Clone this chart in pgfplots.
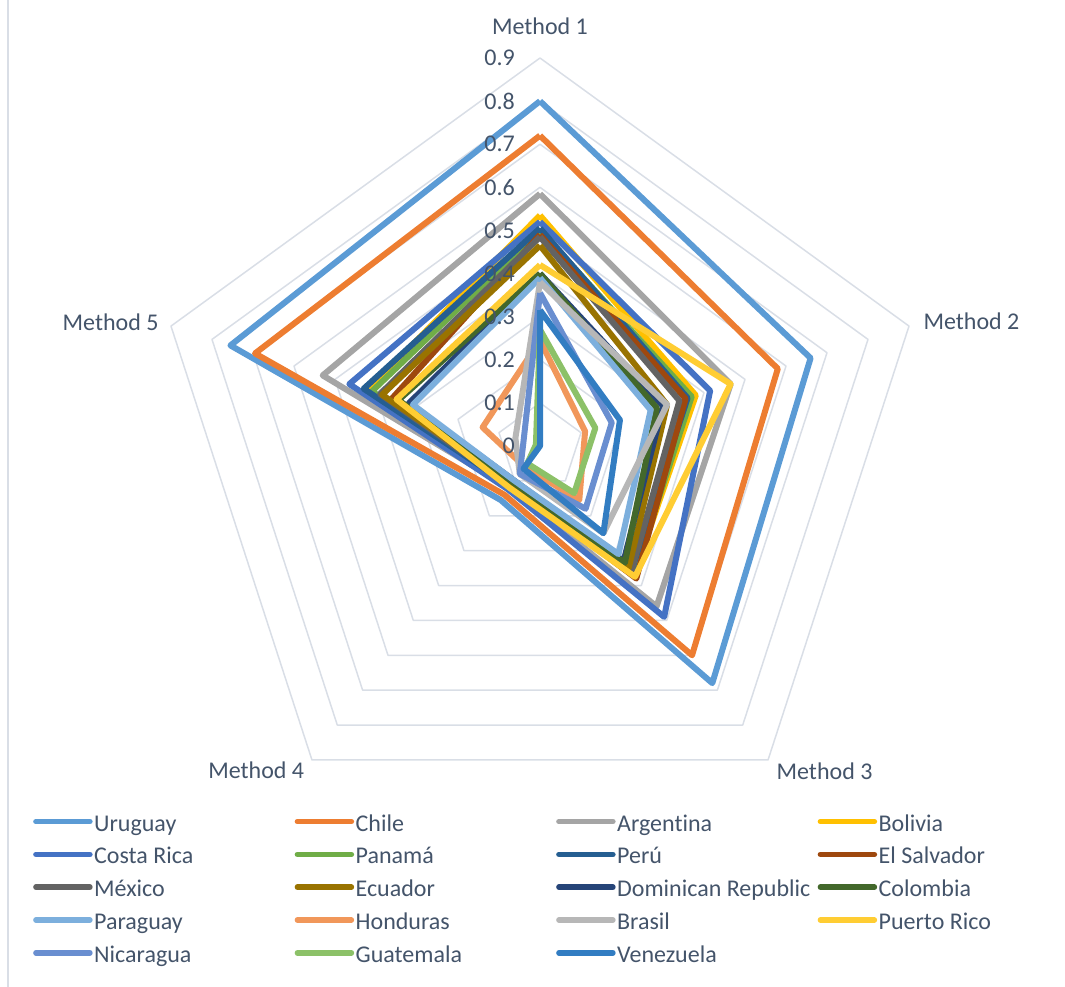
\documentclass[border=0pt]{standalone}
\usepackage{pgfplots}
\pgfplotsset{compat=1.18}
\usepackage{pgfplotstable}
\usepgfplotslibrary{polar}
\usepackage{fontspec}
\setmainfont{Carlito}[Ligatures=NoCommon]

\definecolor{textc}{HTML}{44546A}
\definecolor{gridc}{HTML}{D9DEE6}
\definecolor{cUruguay}{HTML}{5B9BD5}
\definecolor{cChile}{HTML}{ED7D31}
\definecolor{cArgentina}{HTML}{A5A5A5}
\definecolor{cBolivia}{HTML}{FFC000}
\definecolor{cCostaRica}{HTML}{4472C4}
\definecolor{cPanama}{HTML}{70AD47}
\definecolor{cPeru}{HTML}{255E91}
\definecolor{cElSalvador}{HTML}{9E480E}
\definecolor{cMexico}{HTML}{636363}
\definecolor{cEcuador}{HTML}{997300}
\definecolor{cDomRep}{HTML}{264478}
\definecolor{cColombia}{HTML}{43682B}
\definecolor{cParaguay}{HTML}{7CAFDD}
\definecolor{cHonduras}{HTML}{F1975A}
\definecolor{cBrasil}{HTML}{B7B7B7}
\definecolor{cPuertoRico}{HTML}{FFCD33}
\definecolor{cNicaragua}{HTML}{698ED0}
\definecolor{cGuatemala}{HTML}{8CC168}
\definecolor{cVenezuela}{HTML}{327DC2}

% One row per method (angle of its spoke), first row repeated to close each polygon
\pgfplotstableread{
angle Uruguay Chile Argentina Bolivia CostaRica Panama Peru ElSalvador Mexico Ecuador DomRep Colombia Paraguay Honduras Brasil PuertoRico Nicaragua Guatemala Venezuela
90    0.80  0.72  0.585 0.535 0.52  0.50  0.505 0.49  0.485 0.465 0.40  0.40  0.39  0.245 0.38  0.42  0.355 0.27  0.315
18    0.66  0.58  0.465 0.38  0.415 0.37  0.36  0.355 0.34  0.31  0.30  0.285 0.27  0.11  0.31  0.465 0.175 0.135 0.195
-54   0.68  0.60  0.46  0.37  0.49  0.37  0.36  0.38  0.36  0.35  0.33  0.335 0.31  0.155 0.25  0.375 0.18  0.135 0.25
-126  0.155 0.14  0.12  0.12  0.125 0.11  0.115 0.11  0.115 0.11  0.10  0.105 0.10  0.06  0.08  0.12  0.08  0.05  0.065
162   0.755 0.695 0.53  0.42  0.465 0.41  0.43  0.36  0.39  0.385 0.32  0.345 0.31  0.14  0.06  0.35  0.04  0.01  0.0
90    0.80  0.72  0.585 0.535 0.52  0.50  0.505 0.49  0.485 0.465 0.40  0.40  0.39  0.245 0.38  0.42  0.355 0.27  0.315
}\scores

% Pentagonal grid rings
\pgfplotstableread{
angle r1 r2 r3 r4 r5 r6 r7 r8 r9
90   0.1 0.2 0.3 0.4 0.5 0.6 0.7 0.8 0.9
18   0.1 0.2 0.3 0.4 0.5 0.6 0.7 0.8 0.9
-54  0.1 0.2 0.3 0.4 0.5 0.6 0.7 0.8 0.9
-126 0.1 0.2 0.3 0.4 0.5 0.6 0.7 0.8 0.9
162  0.1 0.2 0.3 0.4 0.5 0.6 0.7 0.8 0.9
90   0.1 0.2 0.3 0.4 0.5 0.6 0.7 0.8 0.9
}\rings

\newcommand\lentry[1]{\makebox[199pt][l]{\strut #1}}

\begin{document}
\begin{tikzpicture}[x=1pt,y=1pt,font=\fontsize{24}{29}\selectfont]
\useasboundingbox (0,0) rectangle (1065,987);
\draw[gridc, line width=1.2pt] (8,0) -- (8,987);
\begin{polaraxis}[
  at={(540pt,541pt)}, anchor=center,
  scale only axis, width=776pt, height=776pt,
  ymin=0, ymax=0.9,
  hide axis, clip=false,
  legend columns=4,
  legend style={at={(-0.1534,0.0322)}, anchor=north west, draw=none, fill=none,
    inner sep=0pt, row sep=8pt, column sep=0pt,
    font=\fontsize{24}{29}\selectfont, text=textc, nodes={inner sep=1.5pt}},
  legend image code/.code={\draw[#1, line width=5.5pt, line cap=round] (0pt,0pt) -- (54pt,0pt);},
  every axis plot/.append style={line width=6pt, line join=round, mark=none},
]
\pgfplotsinvokeforeach{1,...,9}{
  \addplot[gridc, line width=1.5pt, forget plot] table[x=angle, y=r#1] {\rings};
}

\addplot[cUruguay]    table[x=angle, y=Uruguay]    {\scores}; \addlegendentry{\lentry{Uruguay}}
\addplot[cChile]      table[x=angle, y=Chile]      {\scores}; \addlegendentry{\lentry{Chile}}
\addplot[cArgentina]  table[x=angle, y=Argentina]  {\scores}; \addlegendentry{\lentry{Argentina}}
\addplot[cBolivia]    table[x=angle, y=Bolivia]    {\scores}; \addlegendentry{\lentry{Bolivia}}
\addplot[cCostaRica]  table[x=angle, y=CostaRica]  {\scores}; \addlegendentry{\lentry{Costa Rica}}
\addplot[cPanama]     table[x=angle, y=Panama]     {\scores}; \addlegendentry{\lentry{Panamá}}
\addplot[cPeru]       table[x=angle, y=Peru]       {\scores}; \addlegendentry{\lentry{Perú}}
\addplot[cElSalvador] table[x=angle, y=ElSalvador] {\scores}; \addlegendentry{\lentry{El Salvador}}
\addplot[cMexico]     table[x=angle, y=Mexico]     {\scores}; \addlegendentry{\lentry{México}}
\addplot[cEcuador]    table[x=angle, y=Ecuador]    {\scores}; \addlegendentry{\lentry{Ecuador}}
\addplot[cDomRep]     table[x=angle, y=DomRep]     {\scores}; \addlegendentry{\lentry{Dominican Republic}}
\addplot[cColombia]   table[x=angle, y=Colombia]   {\scores}; \addlegendentry{\lentry{Colombia}}
\addplot[cParaguay]   table[x=angle, y=Paraguay]   {\scores}; \addlegendentry{\lentry{Paraguay}}
\addplot[cHonduras]   table[x=angle, y=Honduras]   {\scores}; \addlegendentry{\lentry{Honduras}}
\addplot[cBrasil]     table[x=angle, y=Brasil]     {\scores}; \addlegendentry{\lentry{Brasil}}
\addplot[cPuertoRico] table[x=angle, y=PuertoRico] {\scores}; \addlegendentry{\lentry{Puerto Rico}}
\addplot[cNicaragua]  table[x=angle, y=Nicaragua]  {\scores}; \addlegendentry{\lentry{Nicaragua}}
\addplot[cGuatemala]  table[x=angle, y=Guatemala]  {\scores}; \addlegendentry{\lentry{Guatemala}}
\addplot[cVenezuela]  table[x=angle, y=Venezuela]  {\scores}; \addlegendentry{\lentry{Venezuela}}

% scale labels along the Method 1 spoke
\begin{scope}[every node/.style={anchor=east, text=textc, inner sep=0pt, xshift=-25pt}]
\node at (axis cs:90,0)   {0};
\node at (axis cs:90,0.1) {0.1};
\node at (axis cs:90,0.2) {0.2};
\node at (axis cs:90,0.3) {0.3};
\node at (axis cs:90,0.4) {0.4};
\node at (axis cs:90,0.5) {0.5};
\node at (axis cs:90,0.6) {0.6};
\node at (axis cs:90,0.7) {0.7};
\node at (axis cs:90,0.8) {0.8};
\node at (axis cs:90,0.9) {0.9};
\end{scope}

% method names
\begin{scope}[every node/.style={text=textc, inner sep=0pt}]
\node[anchor=center] at (axis cs:90,0.974)  {Method 1};
\node[anchor=west]   at (axis cs:18,0.935)  {Method 2};
\node[anchor=west]   at (axis cs:-54,0.933) {Method 3};
\node[anchor=east]   at (axis cs:-126,0.93) {Method 4};
\node[anchor=east]   at (axis cs:162,0.93)  {Method 5};
\end{scope}
\end{polaraxis}
\end{tikzpicture}
\end{document}
